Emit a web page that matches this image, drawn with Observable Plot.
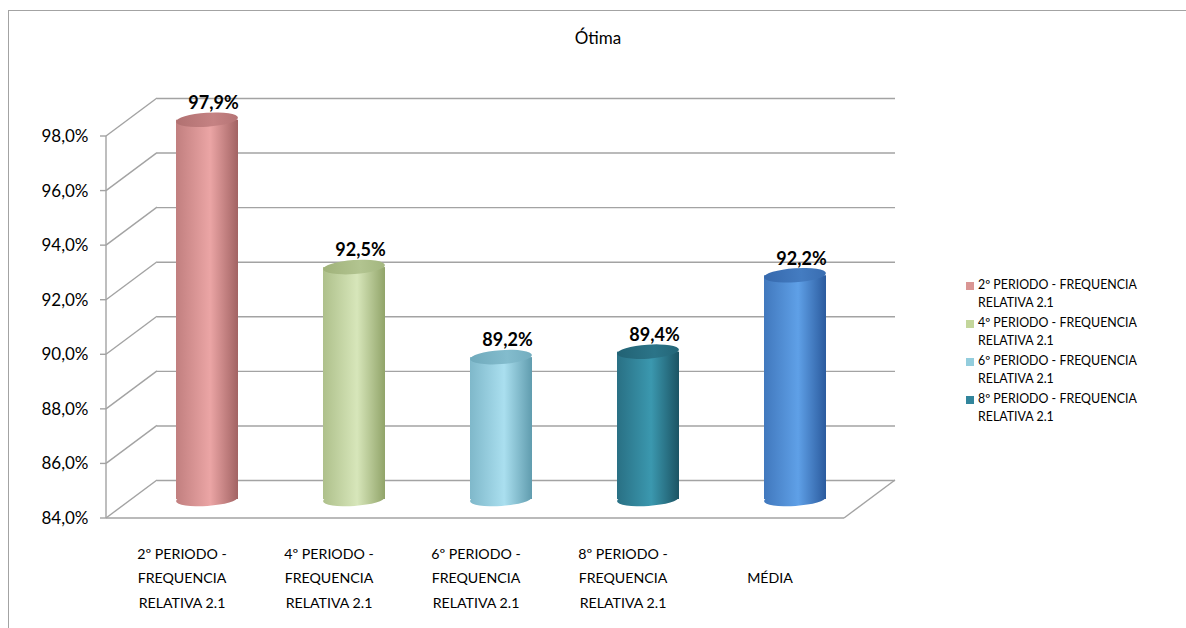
<!DOCTYPE html>
<html>
<head>
<meta charset="utf-8">
<script src="https://cdn.jsdelivr.net/npm/d3@7"></script>
<script src="https://cdn.jsdelivr.net/npm/@observablehq/plot@0.6"></script>
<style>
  html, body { margin: 0; padding: 0; background: #fff; }
  #wrap { position: relative; width: 1186px; height: 628px; overflow: hidden; font-family: Lato, "Open Sans", sans-serif; color: #000; }
  #frame { position: absolute; left: 8px; top: 10px; width: 1300px; height: 800px; border-left: 1.5px solid #A3A3A3; border-top: 1.5px solid #A3A3A3; }
  #chart { position: absolute; left: 0; top: 0; }
  #title { position: absolute; left: 498px; width: 200px; top: 27px; text-align: center; font-size: 17px; line-height: 22px; }
  #legend { position: absolute; left: 963px; top: 276px; font-size: 12.4px; line-height: 18px; }
  .item { position: relative; padding-left: 15px; height: 38px; width: 210px; }
  .sw { position: absolute; left: 3px; top: 6px; width: 8px; height: 8px; }
</style>
</head>
<body>
<div id="wrap">
  <div id="frame"></div>
  <div id="chart"></div>
  <div id="title"></div>
  <div id="legend"></div>
</div>
<script>
// ---- data ----
const titleText = "Ótima";
const categories = [
  "2º PERIODO - FREQUENCIA RELATIVA 2.1",
  "4º PERIODO - FREQUENCIA RELATIVA 2.1",
  "6º PERIODO - FREQUENCIA RELATIVA 2.1",
  "8º PERIODO - FREQUENCIA RELATIVA 2.1",
  "MÉDIA"
];
const percent = [97.9, 92.5, 89.2, 89.4, 92.2];
const valueLabels = ["97,9%", "92,5%", "89,2%", "89,4%", "92,2%"];
const yTicks = [84, 86, 88, 90, 92, 94, 96, 98];
const yTickLabels = ["84,0%", "86,0%", "88,0%", "90,0%", "92,0%", "94,0%", "96,0%", "98,0%"];
const legendLabels = categories.slice(0, 4);

// ---- styles ----
const lightColors = ["#EBA5A5", "#D7E6BA", "#AADFEF", "#3B98AF", "#5FA0E7"];
const darkColors  = ["#9E5F60", "#8DA165", "#5C98AB", "#1A5060", "#28579A"];
const legendColors = ["#DA9694", "#C3D69B", "#93CDDD", "#31859C"];
const gridColor = "#A3A3A3";
const DX = 51, DY = -38;          // depth of the 3D box
const MX = DX / 2, MY = DY / 2;   // bars sit in the middle of the depth
const RADIUS = 31, RY = 7;

const rows = categories.map((c, i) => ({cat: c, value: percent[i], label: valueLabels[i]}));
const wrapLabel = s => s.replace(" - ", " -\n").replace(" RELATIVA", "\nRELATIVA");

function box(index, scales, values, dimensions) {
  const {x, y} = scales;
  const [x0, x1] = x.range();
  const g = d3.create("svg:g").attr("stroke", gridColor).attr("stroke-width", 1.4).attr("fill", "none");
  for (const t of yTicks) {
    g.append("line").attr("x1", x0).attr("y1", y(t)).attr("x2", x0 + DX).attr("y2", y(t) + DY);
    g.append("line").attr("x1", x0 - 6).attr("y1", y(t)).attr("x2", x0).attr("y2", y(t));
  }
  const y0 = y(yTicks[0]);
  g.append("line").attr("x1", x0).attr("y1", y(yTicks[yTicks.length - 1])).attr("x2", x0).attr("y2", y0);
  g.append("line").attr("x1", x0).attr("y1", y0).attr("x2", x1).attr("y2", y0);
  g.append("line").attr("x1", x1).attr("y1", y0).attr("x2", x1 + DX).attr("y2", y0 + DY);
  return g.node();
}

function cylinders(index, scales) {
  const {x, y} = scales;
  const bw = x.bandwidth();
  const g = d3.create("svg:g");
  const defs = g.append("defs");
  rows.forEach((r, i) => {
    const light = lightColors[i], dark = darkColors[i];
    const mix = t => d3.interpolateRgb(dark, light)(t);
    const gb = defs.append("linearGradient").attr("id", "cylBody" + i).attr("x1", 0).attr("x2", 1).attr("y1", 0).attr("y2", 0);
    gb.append("stop").attr("offset", 0).attr("stop-color", mix(0.45));
    gb.append("stop").attr("offset", 0.55).attr("stop-color", light);
    gb.append("stop").attr("offset", 1).attr("stop-color", mix(0.05));
    const gt = defs.append("linearGradient").attr("id", "cylTop" + i).attr("x1", 0).attr("x2", 1).attr("y1", 0).attr("y2", 0);
    gt.append("stop").attr("offset", 0).attr("stop-color", mix(0.25));
    gt.append("stop").attr("offset", 0.6).attr("stop-color", mix(0.5));
    gt.append("stop").attr("offset", 1).attr("stop-color", mix(0.3));
    const cx = x(r.cat) + bw / 2 + MX;
    const yTop = y(r.value) + MY;
    const yBot = y(yTicks[0]) + MY;
    g.append("ellipse").attr("cx", cx).attr("cy", yBot).attr("rx", RADIUS).attr("ry", RY)
      .attr("transform", `rotate(-4 ${cx} ${yBot})`).attr("fill", `url(#cylBody${i})`);
    g.append("rect").attr("x", cx - RADIUS).attr("y", yTop).attr("width", 2 * RADIUS).attr("height", yBot - yTop)
      .attr("fill", `url(#cylBody${i})`);
    g.append("ellipse").attr("cx", cx).attr("cy", yTop).attr("rx", RADIUS).attr("ry", RY)
      .attr("transform", `rotate(-4 ${cx} ${yTop})`).attr("fill", `url(#cylTop${i})`);
  });
  return g.node();
}

const chart = Plot.plot({
  width: 1186,
  height: 628,
  marginLeft: 106,
  marginRight: 342,
  marginTop: 136,
  marginBottom: 110,
  style: {fontFamily: "Lato, 'Open Sans', sans-serif", fontSize: "17px", color: "#000", background: "transparent"},
  x: {type: "band", domain: categories, padding: 0, axis: null},
  y: {domain: [84, 98], ticks: 7, tickSize: 0, tickPadding: 18, label: null,
      tickFormat: d => yTickLabels[yTicks.indexOf(d)]},
  marks: [
    Plot.ruleY(yTicks, {dx: DX, dy: DY, stroke: gridColor, strokeWidth: 1.4}),
    box,
    cylinders,
    Plot.text(rows, {x: "cat", y: "value", text: "label", dx: MX + 6, dy: MY - 17,
      fontWeight: "bold", fontSize: 18, fill: "#000"}),
    Plot.text(categories, {x: d => d, y: () => yTicks[0], text: wrapLabel, dy: 57,
      lineAnchor: "middle", lineHeight: 1.72, fontSize: 14.2, fill: "#000"})
  ]
});
document.getElementById("chart").appendChild(chart);

document.getElementById("title").textContent = titleText;
const legend = d3.select("#legend");
legendLabels.forEach((l, i) => {
  const it = legend.append("div").attr("class", "item");
  it.append("div").attr("class", "sw").style("background", legendColors[i]);
  it.append("div").html(l.replace(" RELATIVA", "<br>RELATIVA"));
});
</script>
</body>
</html>
